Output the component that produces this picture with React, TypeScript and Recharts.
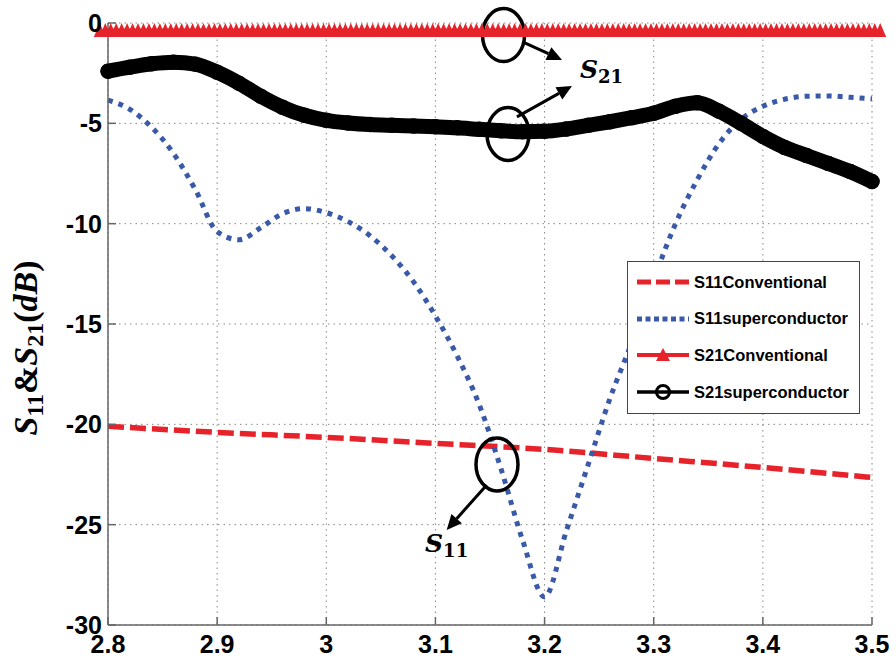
import React from 'react';
import {
  LineChart, Line, XAxis, YAxis, CartesianGrid, Legend, ReferenceDot, ReferenceLine,
} from 'recharts';

// frequency grid (GHz) read at 0.02 steps
const freq = [
  2.8, 2.82, 2.84, 2.86, 2.88, 2.9, 2.92, 2.94, 2.96, 2.98,
  3.0, 3.02, 3.04, 3.06, 3.08, 3.1, 3.12, 3.14, 3.16, 3.18,
  3.2, 3.22, 3.24, 3.26, 3.28, 3.3, 3.32, 3.34, 3.36, 3.38,
  3.4, 3.42, 3.44, 3.46, 3.48, 3.5,
];

const s11Super = [
  -3.84, -4.3, -5.2, -6.5, -8.3, -10.4, -10.8, -10.2, -9.5, -9.25,
  -9.45, -9.9, -10.6, -11.6, -12.9, -14.6, -16.6, -19.0, -22.2, -25.8,
  -28.6, -25.3, -22.0, -18.7, -15.9, -12.8, -10.0, -7.8, -6.0, -4.8,
  -4.15, -3.8, -3.65, -3.64, -3.7, -3.78,
];

const s21Super = [
  -2.4, -2.2, -2.03, -1.95, -2.05, -2.45, -3.0, -3.65, -4.2, -4.6,
  -4.85, -4.98, -5.06, -5.1, -5.13, -5.17, -5.22, -5.3, -5.37, -5.42,
  -5.4, -5.28, -5.1, -4.92, -4.72, -4.5, -4.15, -3.98, -4.4, -5.0,
  -5.65, -6.2, -6.6, -7.0, -7.4, -7.9,
];

const s21Conv = [
  -0.35, -0.35, -0.35, -0.35, -0.35, -0.35, -0.35, -0.35, -0.35, -0.35,
  -0.35, -0.35, -0.35, -0.35, -0.35, -0.35, -0.35, -0.35, -0.35, -0.35,
  -0.35, -0.35, -0.35, -0.35, -0.35, -0.35, -0.35, -0.35, -0.35, -0.35,
  -0.35, -0.35, -0.35, -0.35, -0.35, -0.35,
];

// conventional S11 only read on the 0.1 grid
const freqCoarse = [2.8, 2.9, 3.0, 3.1, 3.2, 3.3, 3.4, 3.5];
const s11Conv = [-20.1, -20.4, -20.65, -20.95, -21.25, -21.7, -22.15, -22.65];

const xTicks = [2.8, 2.9, 3, 3.1, 3.2, 3.3, 3.4, 3.5];
const yTicks = [-30, -25, -20, -15, -10, -5, 0];

const legendNames = ['S11Conventional', 'S11superconductor', 'S21Conventional', 'S21superconductor'];

// annotation anchors (data units)
const rings = [
  { f: 3.1624, db: -0.6 },
  { f: 3.1665, db: -5.53 },
  { f: 3.1564, db: -22.0 },
];
const arrows = [
  [{ f: 3.1803, db: -0.95 }, { f: 3.216, db: -1.84 }],
  [{ f: 3.1747, db: -4.68 }, { f: 3.2251, db: -3.14 }],
  [{ f: 3.147, db: -23.02 }, { f: 3.1103, db: -25.26 }],
];
const tags = [
  { f: 3.2325, db: -2.74, sub: '21' },
  { f: 3.0905, db: -26.36, sub: '11' },
];

const superRows = freq.map((f, i) => ({ f, s11: s11Super[i], s21: s21Super[i], s21c: s21Conv[i] }));
const convRows = freqCoarse.map((f, i) => ({ f, s11: s11Conv[i] }));

const RED = '#e6232a';
const BLUE = '#3a5aa9';
const AXIS = '#666';
const sansFont = "'Liberation Sans', Arial, sans-serif";

const tickStyle = { fill: '#000', fontSize: 25, fontWeight: 700, fontFamily: sansFont };

// MATLAB '^' markers packed tightly, four per sample
const Teeth = (p: any) => {
  const { cx, cy, index } = p;
  let d = '';
  for (let k = -1.5; k <= 1.5; k += 1) {
    const x = cx + k * 5.455;
    d += `M${x - 6},${cy + 7}L${x},${cy - 7}L${x + 6},${cy + 7}Z`;
  }
  return <path key={`tooth-${index}`} d={d} fill={RED} />;
};

const Ring = (p: any) => (
  <ellipse cx={p.cx} cy={p.cy} rx={21} ry={26.5} fill="none" stroke="#000" strokeWidth={3.5} />
);

const Arrow = (p: any) => {
  const { x1, y1, x2, y2 } = p;
  const a = Math.atan2(y2 - y1, x2 - x1);
  const bx = x2 - 15 * Math.cos(a);
  const by = y2 - 15 * Math.sin(a);
  const nx = -Math.sin(a) * 7;
  const ny = Math.cos(a) * 7;
  return (
    <g>
      <line x1={x1} y1={y1} x2={bx} y2={by} stroke="#000" strokeWidth={3} />
      <polygon points={`${x2},${y2} ${bx + nx},${by + ny} ${bx - nx},${by - ny}`} fill="#000" />
    </g>
  );
};

const Tag = (sub: string) => (p: any) => (
  <text x={p.cx} y={p.cy} fill="#000" fontFamily="'DejaVu Serif', serif" fontWeight={700}>
    <tspan fontStyle="italic" fontSize={25}>S</tspan>
    <tspan fontSize={18} dy={5}>{sub}</tspan>
  </text>
);

const YTitle = (p: any) => {
  const vb = p.viewBox || { x: 0, y: 23, height: 602 };
  const x = vb.x + 37;
  const y = vb.y + vb.height / 2 + 24;
  return (
    <text transform={`translate(${x},${y}) rotate(-90)`} textAnchor="middle" fill="#000"
      fontFamily="'Liberation Serif', 'Times New Roman', serif" fontWeight={700} fontSize={34}>
      <tspan fontStyle="italic">S</tspan>
      <tspan fontSize={24} dy={6}>11</tspan>
      <tspan dy={-6}>{'&'}</tspan>
      <tspan fontStyle="italic">S</tspan>
      <tspan fontSize={24} dy={6}>21</tspan>
      <tspan dy={-6}>(</tspan>
      <tspan fontStyle="italic">dB</tspan>
      <tspan>)</tspan>
    </text>
  );
};

const legendSample = (i: number) => {
  if (i === 0) return <line x1={1} x2={53} y1={10} y2={10} stroke={RED} strokeWidth={5} strokeDasharray="14 5" />;
  if (i === 1) return <line x1={1} x2={53} y1={10} y2={10} stroke={BLUE} strokeWidth={5} strokeDasharray="5 3.5" />;
  if (i === 2) {
    return (
      <g>
        <line x1={1} x2={53} y1={10} y2={10} stroke={RED} strokeWidth={4} />
        <polygon points="20,16 27,3 34,16" fill={RED} />
      </g>
    );
  }
  return (
    <g>
      <line x1={1} x2={53} y1={10} y2={10} stroke="#000" strokeWidth={3.5} />
      <circle cx={27} cy={10} r={6.5} fill="none" stroke="#000" strokeWidth={3} />
    </g>
  );
};

const LegendBox = () => (
  <div style={{
    boxSizing: 'border-box', width: 233, height: 153, background: '#fff', border: '1.5px solid #444',
    paddingTop: 2, fontFamily: sansFont, fontWeight: 700, fontSize: 16.5, color: '#000',
  }}>
    {legendNames.map((name, i) => (
      <div key={name} style={{ display: 'flex', alignItems: 'center', height: 36.6 }}>
        <svg width={58} height={20} style={{ marginLeft: 8 }}>{legendSample(i)}</svg>
        <span>{name}</span>
      </div>
    ))}
  </div>
);

export default function App() {
  return (
    <div style={{ position: 'fixed', left: 0, top: 0, width: 896, height: 662, background: '#fff' }}>
      <LineChart width={896} height={662} margin={{ top: 23, right: 24, bottom: 0, left: 0 }}>
        <CartesianGrid stroke="#888" strokeDasharray="1.5 4" />
        <XAxis dataKey="f" type="number" domain={[2.8, 3.5]} ticks={xTicks} interval={0} height={37}
          tickSize={-8} tickMargin={18} tick={tickStyle} tickFormatter={(v) => String(v)}
          axisLine={{ stroke: AXIS, strokeWidth: 1.5 }} tickLine={{ stroke: AXIS, strokeWidth: 1.5 }} />
        <XAxis xAxisId="top" orientation="top" dataKey="f" type="number" domain={[2.8, 3.5]} ticks={xTicks}
          height={0} tick={false} tickSize={-8}
          axisLine={{ stroke: '#222', strokeWidth: 1.5 }} tickLine={{ stroke: AXIS, strokeWidth: 1.5 }} />
        <YAxis type="number" domain={[-30, 0]} ticks={yTicks} interval={0} width={108}
          tickSize={-8} tickMargin={14} tick={tickStyle}
          axisLine={{ stroke: AXIS, strokeWidth: 1.5 }} tickLine={{ stroke: AXIS, strokeWidth: 1.5 }}
          label={<YTitle />} />
        <YAxis yAxisId="right" orientation="right" type="number" domain={[-30, 0]} ticks={yTicks} width={0}
          tick={false} tickSize={-8}
          axisLine={{ stroke: AXIS, strokeWidth: 1.5 }} tickLine={{ stroke: AXIS, strokeWidth: 1.5 }} />

        <Line data={convRows} dataKey="s11" name="S11Conventional" type="monotone" stroke={RED}
          strokeWidth={5.5} strokeDasharray="16 6" dot={false} isAnimationActive={false} />
        <Line data={superRows} dataKey="s11" name="S11superconductor" type="monotone" stroke={BLUE}
          strokeWidth={5} strokeDasharray="5 6" dot={false} isAnimationActive={false} />
        <Line data={superRows} dataKey="s21c" name="S21Conventional" xAxisId="top" yAxisId="right"
          type="linear" stroke={RED} strokeWidth={3} dot={Teeth} isAnimationActive={false} />
        <Line data={superRows} dataKey="s21" name="S21superconductor" type="monotone" stroke="#000"
          strokeWidth={15} strokeLinecap="round"
          dot={{ r: 7, fill: '#000', stroke: '#000', strokeWidth: 1.5 }} isAnimationActive={false} />

        {rings.map((r, i) => (
          <ReferenceDot key={`ring-${i}`} x={r.f} y={r.db} r={21} shape={Ring} />
        ))}
        {arrows.map((s, i) => (
          <ReferenceLine key={`arrow-${i}`} segment={[{ x: s[0].f, y: s[0].db }, { x: s[1].f, y: s[1].db }]}
            shape={Arrow} />
        ))}
        {tags.map((t) => (
          <ReferenceDot key={`tag-${t.sub}`} x={t.f} y={t.db} r={1} shape={Tag(t.sub)} />
        ))}

        <Legend content={LegendBox} layout="horizontal" verticalAlign="middle" align="center"
          wrapperStyle={{ left: 627, top: 261, width: 233, height: 153 }} />
      </LineChart>
    </div>
  );
}
